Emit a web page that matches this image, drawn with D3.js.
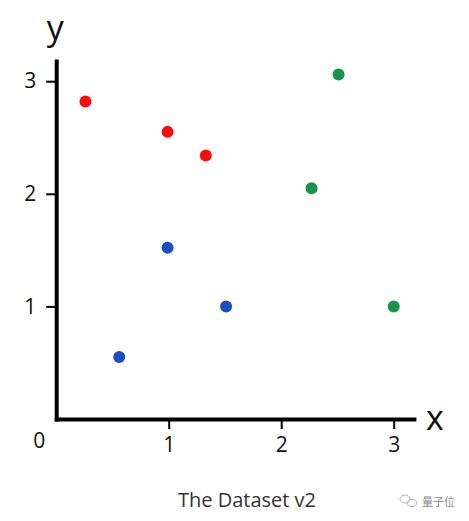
<!DOCTYPE html>
<html lang="en">
<head>
    <meta charset="UTF-8">
    <title>The Dataset v2</title>
    <script src="https://d3js.org/d3.v7.min.js"></script>
    <style>
        body {
            margin: 0;
            background: #fff;
            font-family: "Open Sans", "Noto Sans", sans-serif;
        }
        svg {
            display: block;
        }
        .tick text {
            font-size: 21px;
            fill: #111;
        }
    </style>
</head>
<body>
    <svg width="469" height="521"></svg>

    <script>
        // data
        const groups = ["red", "blue", "green"];
        const redPoints = [[0.26, 2.82], [0.99, 2.55], [1.33, 2.34]];
        const bluePoints = [[0.99, 1.52], [1.51, 1.0], [0.56, 0.55]];
        const greenPoints = [[2.51, 3.06], [2.27, 2.05], [3.0, 1.0]];
        const xTicks = [1, 2, 3];
        const yTicks = [1, 2, 3];

        const colors = { red: "#f70d0d", blue: "#1b4dc4", green: "#17934a" };

        const width = 469;
        const height = 521;

        const svg = d3.select("svg")
            .attr("width", width)
            .attr("height", height);

        const xScale = d3.scaleLinear()
            .domain([0, 3.18])
            .range([56.2, 56.2 + 3.18 * 112.5]);

        const yScale = d3.scaleLinear()
            .domain([0, 3.18])
            .range([419, 419 - 3.18 * 112.6]);

        // X axis
        const xAxis = svg.append("g")
            .attr("transform", `translate(0, ${yScale(0)})`)
            .call(d3.axisBottom(xScale).tickValues(xTicks).tickFormat(d3.format("d"))
                .tickSizeOuter(0).tickSizeInner(10).tickPadding(8));
        xAxis.select(".domain")
            .attr("stroke", "#000")
            .attr("stroke-width", 4)
            .attr("stroke-linecap", "square");
        xAxis.selectAll(".tick line").attr("stroke-width", 2);

        // Y axis
        const yAxis = svg.append("g")
            .attr("transform", `translate(${xScale(0)}, 0)`)
            .call(d3.axisLeft(yScale).tickValues(yTicks).tickFormat(d3.format("d"))
                .tickSizeOuter(0).tickSizeInner(10).tickPadding(10));
        yAxis.select(".domain")
            .attr("stroke", "#000")
            .attr("stroke-width", 4)
            .attr("stroke-linecap", "square");
        yAxis.selectAll(".tick line").attr("stroke-width", 2);
        svg.selectAll(".tick text").attr("font-family", "'Open Sans', sans-serif");

        // origin label
        svg.append("text")
            .attr("x", xScale(0) - 17)
            .attr("y", yScale(0) + 29)
            .attr("text-anchor", "middle")
            .style("font-size", "21px")
            .attr("fill", "#111")
            .text("0");

        // axis names
        svg.append("text")
            .attr("x", xScale(0) - 1)
            .attr("y", 40)
            .attr("text-anchor", "middle")
            .style("font-size", "34px")
            .attr("fill", "#111")
            .text("y");

        svg.append("text")
            .attr("x", 435)
            .attr("y", 430)
            .attr("text-anchor", "middle")
            .style("font-size", "34px")
            .attr("fill", "#111")
            .text("x");

        // points
        const points = [];
        redPoints.forEach(p => points.push({ g: "red", x: p[0], y: p[1] }));
        bluePoints.forEach(p => points.push({ g: "blue", x: p[0], y: p[1] }));
        greenPoints.forEach(p => points.push({ g: "green", x: p[0], y: p[1] }));

        svg.selectAll(".dot")
            .data(points)
            .join("circle")
            .attr("class", "dot")
            .attr("cx", d => xScale(d.x))
            .attr("cy", d => yScale(d.y))
            .attr("r", 6)
            .attr("fill", d => colors[d.g]);

        // caption
        svg.append("text")
            .attr("x", 247)
            .attr("y", 507)
            .attr("text-anchor", "middle")
            .style("font-size", "20px")
            .attr("fill", "#333")
            .text("The Dataset v2");

        // watermark
        const wm = svg.append("g").attr("fill", "none").attr("stroke", "#b5b5b5").attr("stroke-width", 1);
        wm.append("ellipse").attr("cx", 405).attr("cy", 499).attr("rx", 5).attr("ry", 4);
        wm.append("ellipse").attr("cx", 412).attr("cy", 503).attr("rx", 4.5).attr("ry", 3.5);
        svg.append("text")
            .attr("x", 422)
            .attr("y", 506)
            .style("font-size", "11px")
            .style("font-family", "'Noto Sans CJK SC', sans-serif")
            .attr("fill", "#8a8a8a")
            .text("量子位");
    </script>
</body>
</html>
